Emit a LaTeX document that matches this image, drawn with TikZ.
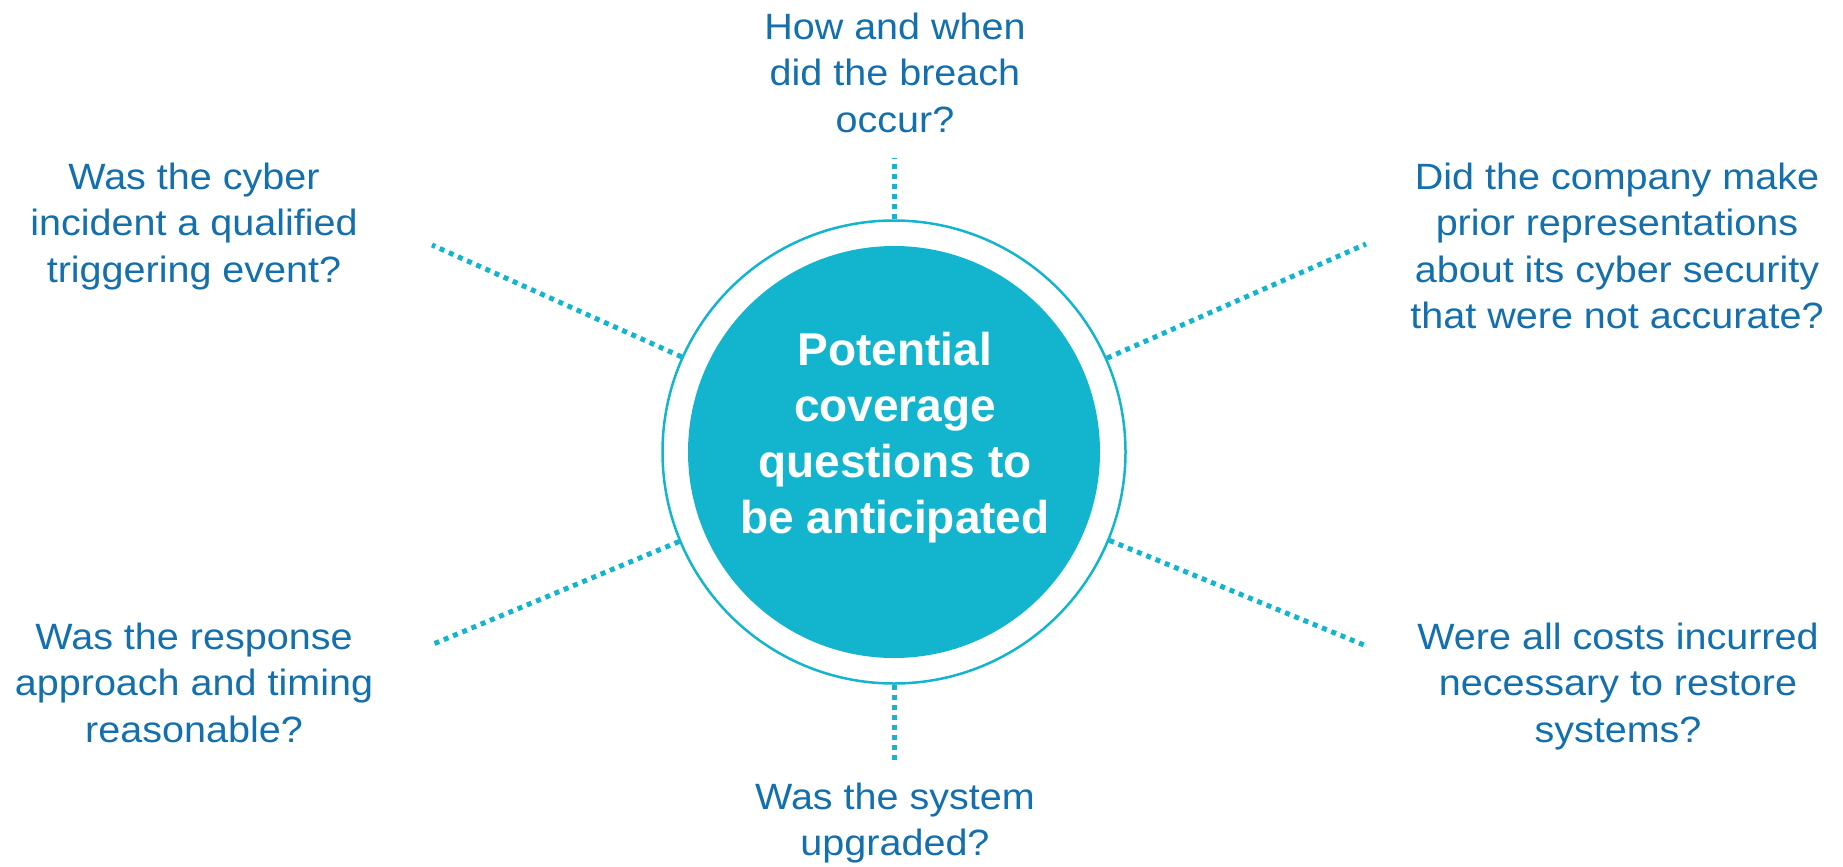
\documentclass[tikz,border=0pt]{standalone}
\usepackage{fontspec}
\setmainfont{Liberation Sans}
\newfontfamily\fragefont[FakeStretch=1.08]{Liberation Sans}
\definecolor{tuerkis}{HTML}{12B5CD}
\definecolor{blau}{HTML}{136FAD}

\begin{document}
\begin{tikzpicture}[x=0.5pt, y=-0.5pt,
      frage/.style={text=blau, align=center, anchor=north, inner sep=0pt,
        font=\fragefont\fontsize{18.3}{23.25}\selectfont},
      ring/.style={circle, draw=tuerkis, line width=1.25pt,
        minimum size=231.5pt, inner sep=0pt},
      kern/.style={circle, fill=tuerkis, minimum size=206pt, inner sep=0pt},
      titel/.style={text=white, align=center, anchor=north, inner sep=0pt,
        font=\bfseries\fontsize{23}{28}\selectfont},
      punkte/.style={tuerkis, line width=2.5pt, dash pattern=on 2.5pt off 2.5pt}]
    \useasboundingbox (0,0) rectangle (1843,867);
    % Mitte
    \node[ring] (ring) at (894,452) {};
    \node[kern] (kern) at (894,452) {};
    \node[titel] (titel) at (895,331.5) {Potential\\coverage\\questions to\\be anticipated};
    % Fragen
    \node[frage] (wann) at (895,12.5) {How and when\\did the breach\\occur?};
    \node[frage] (ausloeser) at (194,162.5) {Was the cyber\\incident a qualified\\triggering event?};
    \node[frage] (angaben) at (1617,162.5) {Did the company make\\prior representations\\about its cyber security\\that were not accurate?};
    \node[frage] (reaktion) at (194,622.5) {Was the response\\approach and timing\\reasonable?};
    \node[frage] (kosten) at (1618,622.5) {Were all costs incurred\\necessary to restore\\systems?};
    \node[frage] (system) at (895,782.5) {Was the system\\upgraded?};
    % Enden der Linien
    \coordinate (e-wann) at (894,158);
    \coordinate (e-ausloeser) at (432,245);
    \coordinate (e-angaben) at (1366,244);
    \coordinate (e-reaktion) at (431,645);
    \coordinate (e-kosten) at (1364,645);
    \coordinate (e-system) at (894,764);
    \foreach \z in {wann, ausloeser, angaben, reaktion, kosten, system}
      \draw[punkte] (ring) -- (e-\z);
  \end{tikzpicture}
\end{document}
